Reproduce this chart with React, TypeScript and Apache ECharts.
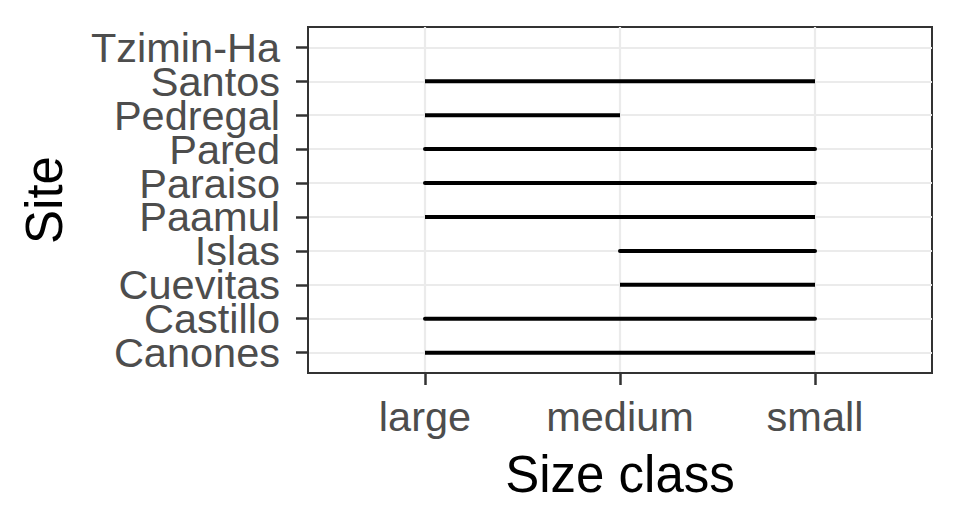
import React, { useEffect, useRef } from "react";
import * as echarts from "echarts";

const sites = ["Canones", "Castillo", "Cuevitas", "Islas", "Paamul", "Paraiso", "Pared", "Pedregal", "Santos", "Tzimin-Ha"];
const sizeClasses = ["large", "medium", "small"];
const segStart: (string | null)[] = ["large", "large", "medium", "medium", "large", "large", "large", "large", "large", null];
const segEnd: (string | null)[] = ["small", "small", "small", "small", "small", "small", "small", "medium", "small", null];
const roundCapSites = ["Castillo", "Islas", "Paraiso", "Pared"];

const FONT = "Liberation Sans, Arial, Helvetica, sans-serif";

// panel geometry (ggplot discrete expansion of 0.6 units each side)
const PANEL_TOP = 27;
const PANEL_BOTTOM = 155;
const PANEL_H = 528 - PANEL_TOP - PANEL_BOTTOM;
const EXPAND = 0.6;

export default function App() {
  const ref = useRef<HTMLDivElement>(null);
  useEffect(() => {
    document.body.style.margin = "0";
    const chart = echarts.init(ref.current!, undefined, { renderer: "svg" });
    const n = sites.length;
    const unit = PANEL_H / (n - 1 + 2 * EXPAND);
    const catTop = PANEL_TOP + (EXPAND - 0.5) * unit;
    const catBottom = PANEL_BOTTOM + (EXPAND - 0.5) * unit;
    const xTicks = sizeClasses.map((_, i) => i + 1);
    const yTicks = sites.map((_, i) => i);
    const series = sites.map((s, i) => {
      const a = segStart[i];
      const b = segEnd[i];
      const data = a && b ? [[sizeClasses.indexOf(a) + 1, i], [sizeClasses.indexOf(b) + 1, i]] : [];
      return {
        type: "line",
        name: s,
        xAxisIndex: 0,
        yAxisIndex: 0,
        data,
        showSymbol: false,
        symbol: "none",
        lineStyle: { color: "#000000", width: 4, cap: roundCapSites.includes(s) ? "round" : "butt" },
        silent: true,
      };
    });
    chart.setOption({
      animation: false,
      backgroundColor: "#ffffff",
      grid: [
        {
          left: 308,
          right: 28,
          top: PANEL_TOP,
          bottom: PANEL_BOTTOM,
          show: true,
          borderColor: "#333333",
          borderWidth: 2,
          backgroundColor: "transparent",
          containLabel: false,
        },
        {
          left: 308,
          right: 28,
          top: catTop,
          bottom: catBottom,
          show: false,
          containLabel: false,
        },
      ],
      xAxis: [
        {
          type: "value",
          gridIndex: 0,
          min: 1 - EXPAND,
          max: sizeClasses.length + EXPAND,
          name: "Size class",
          nameLocation: "middle",
          nameGap: 76,
          nameTextStyle: { fontFamily: FONT, fontSize: 51, color: "#000000" },
          axisLine: { show: true, onZero: false, lineStyle: { color: "#333333", width: 2 } },
          axisTick: { show: true, inside: false, length: 12, customValues: xTicks, lineStyle: { color: "#333333", width: 2.5 } },
          axisLabel: {
            show: true,
            customValues: xTicks,
            showMinLabel: true,
            showMaxLabel: true,
            margin: 22,
            fontFamily: FONT,
            fontSize: 41.5,
            color: "#4D4D4D",
            formatter: (v: number) => sizeClasses[Math.round(v) - 1] ?? "",
          },
          splitLine: { show: true, lineStyle: { color: "#EBEBEB", width: 2.2 } },
        },
        {
          type: "value",
          gridIndex: 1,
          show: false,
          min: 0,
          max: 1,
        },
      ],
      yAxis: [
        {
          type: "value",
          gridIndex: 0,
          min: -EXPAND,
          max: n - 1 + EXPAND,
          name: "Site",
          nameLocation: "middle",
          nameRotate: 90,
          nameGap: 238,
          nameTextStyle: { fontFamily: FONT, fontSize: 51, color: "#000000" },
          axisLine: { show: true, onZero: false, lineStyle: { color: "#333333", width: 2 } },
          axisTick: { show: true, inside: false, length: 12, customValues: yTicks, lineStyle: { color: "#333333", width: 2.5 } },
          axisLabel: { show: false },
          splitLine: { show: true, lineStyle: { color: "#EBEBEB", width: 2.2 } },
        },
        {
          type: "category",
          gridIndex: 1,
          data: sites,
          boundaryGap: true,
          axisLine: { show: false, onZero: false },
          axisTick: { show: false },
          splitLine: { show: false },
          axisLabel: {
            show: true,
            interval: 0,
            margin: 28,
            fontFamily: FONT,
            fontSize: 41.5,
            color: "#4D4D4D",
          },
        },
      ],
      series,
    });
    return () => chart.dispose();
  }, []);
  return <div ref={ref} style={{ width: 960, height: 528 }} />;
}
